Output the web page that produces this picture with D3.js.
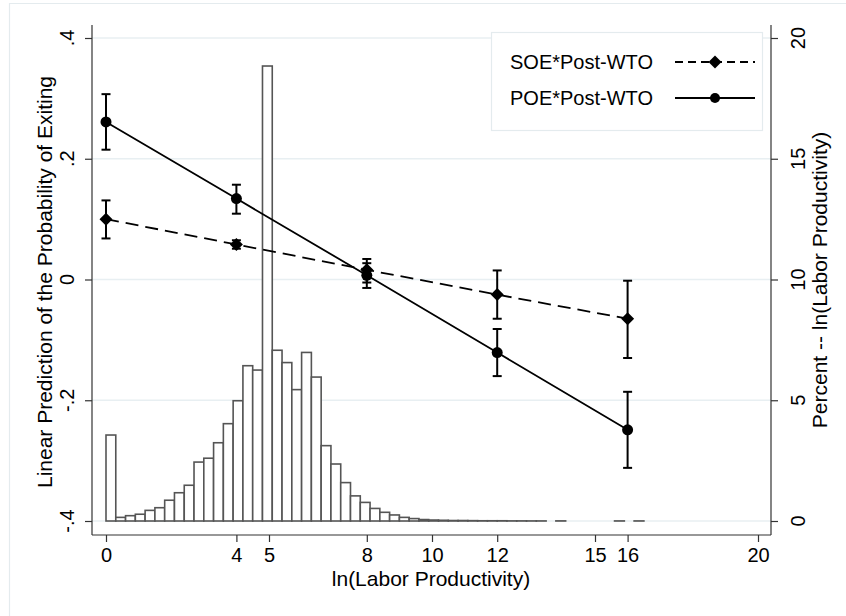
<!DOCTYPE html>
<html>
<head>
<meta charset="utf-8">
<script src="https://cdn.jsdelivr.net/npm/d3@7"></script>
<style>
body{margin:0;background:#fff;}
text{font-family:"Liberation Sans",Arial,sans-serif;fill:#000;}
</style>
</head>
<body>
<script>
// histogram of ln(labor productivity), bins of 0.3 starting at 0 (percent)
var binWidth=0.3;
var histPct=[3.56,0.15,0.22,0.28,0.44,0.55,0.86,1.17,1.48,2.44,
             2.60,3.24,4.03,4.98,6.43,6.25,18.84,7.07,6.56,5.44,
             6.98,5.96,3.12,2.36,1.59,1.04,0.77,0.52,0.36,0.25,
             0.15,0.10,0.06,0.04,0.03,0.02,0.02,0.015,0.01,0.01,
             0.01,0.005,0.005,0.003,0.003,0,0.005,0,0,0,
             0,0,0.003,0,0.003];

// linear predictions and confidence intervals
var xVals=[0,4,8,12,16];
var soe=[0.100,0.058,0.016,-0.025,-0.065];
var soeLo=[0.068,0.051,-0.005,-0.065,-0.130];
var soeHi=[0.131,0.065,0.034,0.015,-0.002];
var poe=[0.261,0.134,0.007,-0.121,-0.249];
var poeLo=[0.215,0.109,-0.014,-0.160,-0.312];
var poeHi=[0.307,0.157,0.027,-0.082,-0.186];

var xTicks=[0,4,5,8,10,12,15,16,20];
var yTicks=[-0.4,-0.2,0,0.2,0.4];
var yTickLabels=["-.4","-.2","0",".2",".4"];
var pctTicks=[0,5,10,15,20];

var width=846;
var height=616;
var plotLeft=92,plotRight=771,plotTop=25,plotBottom=535;

var svg=d3.select("body").append("svg")
          .attr("width",width)
          .attr("height",height);

var x=d3.scaleLinear().domain([0,20]).range([106,758]);
var y=d3.scaleLinear().domain([-0.4,0.4]).range([521,38]);
var yPct=d3.scaleLinear().domain([0,20]).range([521,38]);

// outer graph region border (only top/left visible)
svg.append("path")
   .attr("d","M9.5,616 L9.5,3.5 L846,3.5")
   .attr("fill","none")
   .attr("stroke","#e4ebee")
   .attr("stroke-width",1.2);

// gridlines
svg.selectAll("line.grid")
   .data(yTicks)
   .enter()
   .append("line")
   .attr("class","grid")
   .attr("x1",plotLeft)
   .attr("x2",plotRight)
   .attr("y1",function(d){return y(d);})
   .attr("y2",function(d){return y(d);})
   .attr("stroke","#e8eff2")
   .attr("stroke-width",1.5);

// histogram
var bins=histPct.map(function(v,i){return {x0:i*binWidth,x1:(i+1)*binWidth,pct:v};})
                .filter(function(d){return d.pct>0;});
svg.selectAll("rect.bar")
   .data(bins)
   .enter()
   .append("rect")
   .attr("class","bar")
   .attr("x",function(d){return x(d.x0);})
   .attr("y",function(d){return yPct(d.pct);})
   .attr("width",function(d){return x(d.x1)-x(d.x0);})
   .attr("height",function(d){return yPct(0)-yPct(d.pct);})
   .attr("fill","#fff")
   .attr("stroke","#555")
   .attr("stroke-width",1.6);

// axes
var axisColor="#333";
var xAxis=svg.append("g")
             .attr("transform","translate(0,"+plotBottom+")")
             .call(d3.axisBottom(x).tickValues(xTicks).tickSize(7).tickPadding(6).tickFormat(d3.format("d")));
var leftAxis=svg.append("g")
                .attr("transform","translate("+plotLeft+",0)")
                .call(d3.axisLeft(y).tickValues(yTicks).tickSize(7).tickFormat(""));
var rightAxis=svg.append("g")
                 .attr("transform","translate("+plotRight+",0)")
                 .call(d3.axisRight(yPct).tickValues(pctTicks).tickSize(7).tickFormat(""));
[xAxis,leftAxis,rightAxis].forEach(function(a){
  a.select(".domain").remove();
  a.selectAll("line").attr("stroke",axisColor).attr("stroke-width",1.2);
});
xAxis.selectAll("text")
     .attr("font-size",20)
     .attr("font-family","Liberation Sans, Arial, sans-serif")
     .attr("fill","#000");
// axis lines spanning the plot region
svg.append("line").attr("x1",plotLeft).attr("x2",plotRight).attr("y1",plotBottom).attr("y2",plotBottom)
   .attr("stroke",axisColor).attr("stroke-width",1.2);
svg.append("line").attr("x1",plotLeft).attr("x2",plotLeft).attr("y1",plotTop).attr("y2",plotBottom)
   .attr("stroke",axisColor).attr("stroke-width",1.2);
svg.append("line").attr("x1",plotRight).attr("x2",plotRight).attr("y1",plotTop).attr("y2",plotBottom)
   .attr("stroke",axisColor).attr("stroke-width",1.2);

// rotated y labels
svg.selectAll("text.ylab")
   .data(yTicks)
   .enter()
   .append("text")
   .attr("class","ylab")
   .attr("transform",function(d){return "translate(74,"+y(d)+") rotate(-90)";})
   .attr("text-anchor","middle")
   .attr("font-size",20)
   .text(function(d,i){return yTickLabels[i];});
svg.selectAll("text.plab")
   .data(pctTicks)
   .enter()
   .append("text")
   .attr("class","plab")
   .attr("transform",function(d){return "translate(805,"+yPct(d)+") rotate(-90)";})
   .attr("text-anchor","middle")
   .attr("font-size",20)
   .text(function(d){return d;});

// titles
svg.append("text")
   .attr("x",431).attr("y",586)
   .attr("text-anchor","middle")
   .attr("font-size",21)
   .text("ln(Labor Productivity)");
svg.append("text")
   .attr("transform","translate(52,282) rotate(-90)")
   .attr("text-anchor","middle")
   .attr("font-size",21)
   .text("Linear Prediction of the Probability of Exiting");
svg.append("text")
   .attr("transform","translate(827,280) rotate(-90)")
   .attr("text-anchor","middle")
   .attr("font-size",21)
   .text("Percent -- ln(Labor Productivity)");

// series
var diamond="M0,-6.5L6.5,0L0,6.5L-6.5,0Z";
var series=[
  {name:"SOE*Post-WTO",est:soe,lo:soeLo,hi:soeHi,dash:"13,7",shape:"diamond"},
  {name:"POE*Post-WTO",est:poe,lo:poeLo,hi:poeHi,dash:null,shape:"circle"}
];
var line=d3.line()
           .x(function(d){return x(d.x);})
           .y(function(d){return y(d.v);});

series.forEach(function(s){
  var pts=xVals.map(function(xv,i){return {x:xv,v:s.est[i],lo:s.lo[i],hi:s.hi[i]};});
  var g=svg.append("g");
  g.append("path")
   .datum(pts)
   .attr("d",line)
   .attr("fill","none")
   .attr("stroke","#000")
   .attr("stroke-width",1.8)
   .attr("stroke-dasharray",s.dash);
  g.selectAll("line.ci")
   .data(pts)
   .enter()
   .append("line")
   .attr("x1",function(d){return x(d.x);})
   .attr("x2",function(d){return x(d.x);})
   .attr("y1",function(d){return y(d.lo);})
   .attr("y2",function(d){return y(d.hi);})
   .attr("stroke","#000")
   .attr("stroke-width",2);
  ["lo","hi"].forEach(function(k){
    g.selectAll("line.cap"+k)
     .data(pts)
     .enter()
     .append("line")
     .attr("x1",function(d){return x(d.x)-4.5;})
     .attr("x2",function(d){return x(d.x)+4.5;})
     .attr("y1",function(d){return y(d[k]);})
     .attr("y2",function(d){return y(d[k]);})
     .attr("stroke","#000")
     .attr("stroke-width",2);
  });
  if(s.shape=="circle"){
    g.selectAll("circle")
     .data(pts)
     .enter()
     .append("circle")
     .attr("cx",function(d){return x(d.x);})
     .attr("cy",function(d){return y(d.v);})
     .attr("r",5.5)
     .attr("fill","#000");
  } else {
    g.selectAll("path.mk")
     .data(pts)
     .enter()
     .append("path")
     .attr("class","mk")
     .attr("d",diamond)
     .attr("transform",function(d){return "translate("+x(d.x)+","+y(d.v)+")";})
     .attr("fill","#000");
  }
});

// legend
var legend=svg.append("g");
legend.append("rect")
      .attr("x",491.5).attr("y",32.5)
      .attr("width",271).attr("height",98)
      .attr("fill","#fff")
      .attr("stroke","#e4ebee")
      .attr("stroke-width",1.2);
series.forEach(function(s,i){
  var ly=62+i*36;
  legend.append("text")
        .attr("x",510).attr("y",ly+7)
        .attr("font-size",20)
        .text(s.name);
  legend.append("line")
        .attr("x1",675).attr("x2",755)
        .attr("y1",ly).attr("y2",ly)
        .attr("stroke","#000")
        .attr("stroke-width",1.8)
        .attr("stroke-dasharray",s.dash?"8,5":null);
  if(s.shape=="circle"){
    legend.append("circle").attr("cx",715).attr("cy",ly).attr("r",5).attr("fill","#000");
  } else {
    legend.append("path").attr("d",diamond).attr("transform","translate(715,"+ly+")").attr("fill","#000");
  }
});
</script>
</body>
</html>
